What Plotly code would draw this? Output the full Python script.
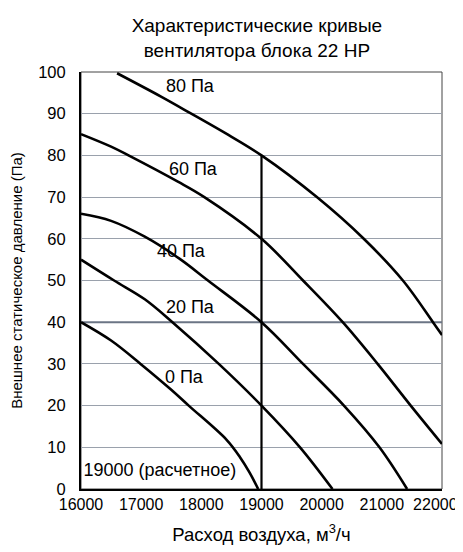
import plotly.graph_objects as go

# fan curves (air flow m3/h, static pressure Pa)
x_0 = [16000, 16500, 16990, 17500, 17790, 18420, 18640, 18800, 18945]
y_0 = [40, 35.6, 30, 23.8, 20, 11.8, 7.7, 4.0, 0]
x_20 = [16000, 16550, 17060, 17520, 18290, 19000, 19640, 20180]
y_20 = [55, 50, 45.5, 40, 30, 20, 10, 0]
x_40 = [16000, 16500, 17060, 17630, 18110, 19000, 19690, 20370, 20960, 21420]
y_40 = [66, 64.3, 60.5, 55.3, 50, 40, 30, 20, 10, 0]
x_60 = [16000, 16500, 16790, 17610, 18050, 19000, 19690, 20350, 20930, 21480, 22000]
y_60 = [85.1, 82.1, 80, 73.7, 70, 60, 50, 40, 30, 20, 10.8]
x_80 = [16600, 17330, 17810, 18450, 19000, 19920, 20700, 21350, 21850, 22000]
y_80 = [99.7, 94.1, 90.2, 84.9, 80, 70, 60, 50, 40, 36.9]

design_x = [19000, 19000]
design_y = [0, 80]
ref_x = [16000, 22000]
ref_y = [40, 40]

x_ticks = [16000, 17000, 18000, 19000, 20000, 21000, 22000]
# last label padded so it stays inside the window, like the original
x_tick_text = ["16000", "17000", "18000", "19000", "20000", "21000",
               "22000\u00a0\u00a0\u00a0"]

label_text = ["80 Па", "60 Па", "40 Па", "20 Па", "0 Па", "19000 (расчетное)"]
label_x = [17810, 17860, 17660, 17810, 17710, 17310]
label_y = [96.4, 76.5, 56.6, 43.4, 26.6, 4.1]

fig = go.Figure()

# reference line at 40 Pa
fig.add_trace(go.Scatter(x=ref_x, y=ref_y, mode="lines",
                         line=dict(color="#6b7585", width=2), hoverinfo="skip"))

curve_style = dict(color="black", width=2.6, shape="spline", smoothing=1.0)
for xs, ys in [(x_0, y_0), (x_20, y_20), (x_40, y_40), (x_60, y_60), (x_80, y_80)]:
    fig.add_trace(go.Scatter(x=xs, y=ys, mode="lines", line=curve_style))

fig.add_trace(go.Scatter(x=design_x, y=design_y, mode="lines",
                         line=dict(color="black", width=2.2)))

fig.add_trace(go.Scatter(x=label_x, y=label_y, mode="text", text=label_text,
                         textfont=dict(size=18, color="black",
                                       family="Liberation Sans, Arial, sans-serif")))

# the page body adds an 8px margin, so the figure is a bit smaller than the window
fig.update_layout(
    width=455, height=544,
    margin=dict(l=73, r=21, t=64, b=63),
    paper_bgcolor="white", plot_bgcolor="white",
    showlegend=False,
    font=dict(family="Liberation Sans, Arial, sans-serif", size=16.5, color="black"),
    title=dict(text="Характеристические кривые<br>вентилятора блока 22 HP",
               x=0.547, xanchor="center", y=0.955, yanchor="top",
               font=dict(size=19, color="black")),
    xaxis=dict(range=[16000, 22000], tickvals=x_ticks, ticktext=x_tick_text,
               showgrid=False, showline=True, linecolor="black", linewidth=2,
               automargin=False, ticklabeloverflow="allow",
               ticks="", tickfont=dict(size=16), zeroline=False,
               title=dict(text="Расход воздуха, м<sup>3</sup>/ч", font=dict(size=18.5),
                          standoff=16)),
    yaxis=dict(range=[0, 100], dtick=10, showgrid=True, gridcolor="#9aa1ac",
               gridwidth=1.3, showline=True, linecolor="black", linewidth=2,
               automargin=False, ticklabelstandoff=10,
               ticks="", tickfont=dict(size=16.5), zeroline=False,
               title=dict(text="Внешнее статическое давление (Па)",
                          font=dict(size=15), standoff=12)),
    shapes=[dict(type="rect", xref="paper", yref="paper", x0=0, x1=1, y0=0, y1=1,
                 line=dict(color="#444444", width=1), layer="below")],
)

fig.write_html("out.html")
